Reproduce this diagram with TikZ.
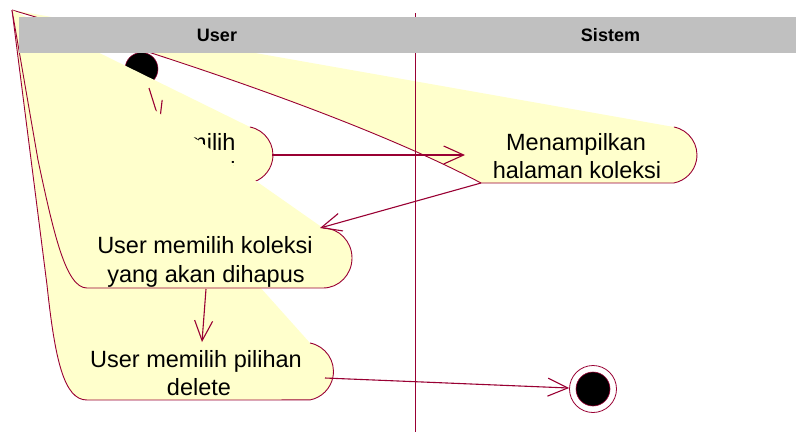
\documentclass[tikz,border=0pt]{standalone}
\usepackage{fontspec}
\setmainfont{Liberation Sans}
\usetikzlibrary{arrows.meta}
\definecolor{rose}{HTML}{990033}
\definecolor{actfill}{HTML}{FFFFCC}
\definecolor{lanegray}{HTML}{C0C0C0}
\begin{document}
\begin{tikzpicture}[x=1pt,y=-1pt,
  actline/.style={draw=rose, line width=0.9pt},
  flow/.style={draw=rose, line width=1.1pt, -{Straight Barb[length=20pt,width=18pt]}},
  acttext/.style={font=\fontsize{23.5}{28}\selectfont, inner sep=0pt, anchor=base, text=black},
  lanetext/.style={font=\fontsize{18}{20}\selectfont\bfseries, inner sep=0pt, anchor=base, text=black}
]
\useasboundingbox (0,0) rectangle (796,432);

% shared corner that all activity outlines run back to
\coordinate (apex) at (12,10);

% initial state
\node[circle, fill=black, draw=rose, line width=0.5pt, minimum size=33pt, inner sep=0pt] (start) at (141.5,69) {};

% activity: Menampilkan halaman koleksi
\fill[actfill] (apex) -- (673.9,127) arc[start angle=-79, end angle=79, radius=28.5]
  -- (481,183) .. controls (400,140) and (250,80) .. (apex) -- cycle;
\draw[actline] (apex) .. controls (250,80) and (400,140) .. (481,183) -- (673.9,183);
\draw[actline] (673.9,127) arc[start angle=-79, end angle=79, radius=28.5];
\node[acttext] (tampil1) at (576,150) {Menampilkan};
\node[acttext] (tampil2) at (577,178) {halaman koleksi};
\coordinate (tampilIn) at (465,155);
\coordinate (tampilOut) at (481,183);

% activity: User memilih menu koleksi
\fill[actfill] (apex) -- (249.9,127) arc[start angle=-79, end angle=79, radius=28.5] -- cycle;
\draw[actline] (249.9,127) arc[start angle=-79, end angle=79, radius=28.5];
\node[acttext] (menu1) at (167,150) {User memilih};
\node[acttext] (menu2) at (167,178) {menu koleksi};
\coordinate (menuOut) at (272,155);

% flow out of the initial state
\coordinate (startOut) at (149,88);
\coordinate (menuIn) at (160,123);
\draw[flow] (startOut) -- (menuIn);

% activity: User memilih pilihan delete
\fill[actfill] (apex) -- (310,343) arc[start angle=-79, end angle=79, radius=29]
  -- (87,400) .. controls (64,400) and (55,360) .. (47,285) -- cycle;
\draw[actline] (310,343) arc[start angle=-79, end angle=79, radius=29]
  -- (87,400) .. controls (64,400) and (55,360) .. (47,285) -- (apex);
\node[acttext] (hapus1) at (196,367) {User memilih pilihan};
\node[acttext] (hapus2) at (199,395) {delete};
\coordinate (hapusIn) at (202,342);
\coordinate (hapusOut) at (325,378);

% activity: User memilih koleksi yang akan dihapus
\fill[actfill] (apex) -- (323,228) arc[start angle=-90, end angle=90, x radius=29, y radius=30]
  -- (87,288) .. controls (66,288) and (54,235) .. (38,160) -- cycle;
\draw[actline] (323,228) arc[start angle=-90, end angle=90, x radius=29, y radius=30]
  -- (87,288) .. controls (66,288) and (54,235) .. (38,160) -- (apex);
\node[acttext] (pilih1) at (205,253) {User memilih koleksi};
\node[acttext] (pilih2) at (206,282) {yang akan dihapus};
\coordinate (pilihIn) at (320,228);
\coordinate (pilihOut) at (206,289);

% final state
\node[circle, draw=rose, fill=white, line width=0.8pt, minimum size=47pt, inner sep=0pt] (final) at (593,389) {};
\node[circle, fill=black, draw=rose, line width=0.6pt, minimum size=34pt, inner sep=0pt] (finaldot) at (593,389) {};

% transitions
\draw[flow] (menuOut) -- (tampilIn);
\draw[flow] (tampilOut) -- (pilihIn);
\draw[flow] (pilihOut) -- (hapusIn);
\draw[flow] (hapusOut) -- (final);

% swimlane divider and header
\draw[rose, line width=0.8pt] (415,13) -- (415,432);
\fill[lanegray] (19,17) rectangle (796,53);
\node[lanetext] (laneUser) at (217,41) {User};
\node[lanetext] (laneSistem) at (610.5,41) {Sistem};
\end{tikzpicture}
\end{document}
